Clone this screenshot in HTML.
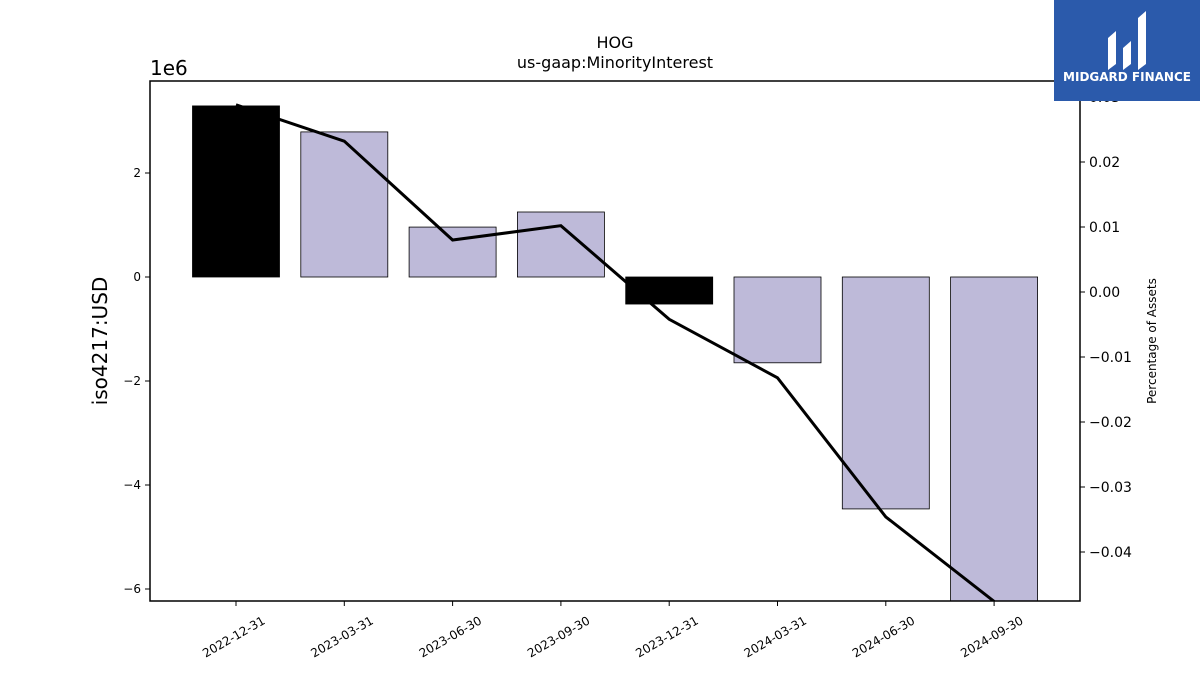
<!DOCTYPE html>
<html><head><meta charset="utf-8"><style>
body{margin:0;background:#fff;width:1200px;height:675px;overflow:hidden;font-family:"Liberation Sans","DejaVu Sans",sans-serif}
</style></head><body>
<svg id="chart" width="1200" height="675" xmlns="http://www.w3.org/2000/svg" font-family="DejaVu Sans, Liberation Sans, sans-serif">
<text x="615" y="48" font-size="16" text-anchor="middle">HOG</text>
<text x="615" y="68" font-size="16" text-anchor="middle">us-gaap:MinorityInterest</text>
<text x="150" y="75" font-size="20">1e6</text>
<text x="107" y="341" font-size="20" text-anchor="middle" transform="rotate(-90 107 341)">iso4217:USD</text>
<text x="1156" y="341" font-size="12" text-anchor="middle" transform="rotate(-90 1156 341)">Percentage of Assets</text>
<g id="bars"></g><g id="line"></g><g id="axes"></g>
<rect x="150" y="81" width="930" height="520" fill="none" stroke="#000" stroke-width="1.5"/>
<g>
<rect x="1054" y="0" width="146" height="101" fill="#2b5aab"/>
<path d="M1108 70 V38 L1116 31 V64 Z M1123 70 V48 L1131 41 V64 Z M1138 70 V18 L1146 11 V64 Z" fill="#fff"/>
<text x="1127" y="81" font-size="12" font-weight="bold" fill="#fff" text-anchor="middle">MIDGARD FINANCE</text>
</g>
</svg>
<script>
const categories=["2022-12-31","2023-03-31","2023-06-30","2023-09-30","2023-12-31","2024-03-31","2024-06-30","2024-09-30"];
const barValues=[3.29,2.79,0.96,1.25,-0.52,-1.65,-4.46,-6.3];
const barColors=["#000","#bebad9","#bebad9","#bebad9","#000","#bebad9","#bebad9","#bebad9"];
const pctValues=[0.0288,0.0232,0.0080,0.0102,-0.0042,-0.0132,-0.0346,-0.0476];
const leftTicks=[-6,-4,-2,0,2];
const rightTicks=[-0.04,-0.03,-0.02,-0.01,0,0.01,0.02,0.03];
const NS="http://www.w3.org/2000/svg";
const pTop=81,pBot=601,pLeft=150,pRight=1080;
const yL=v=>277-v*52;
const yR=v=>292-v*6500;
const xC=i=>236+i*108.3;
function mk(t,a,p){const e=document.createElementNS(NS,t);for(const k in a)e.setAttribute(k,a[k]);p.appendChild(e);return e;}
const clip=mk("clipPath",{id:"pc"},document.getElementById("chart"));
mk("rect",{x:pLeft,y:pTop,width:pRight-pLeft,height:pBot-pTop},clip);
const bg=document.getElementById("bars");bg.setAttribute("clip-path","url(#pc)");
barValues.forEach((v,i)=>{
 const y0=yL(0),y1=yL(v);
 const r=mk("rect",{x:xC(i)-43.5,y:Math.min(y0,y1),width:87,height:Math.abs(y1-y0),fill:barColors[i],stroke:"#000","stroke-width":0.8},bg);
 
 
});
const lg=document.getElementById("line");lg.setAttribute("clip-path","url(#pc)");
const pl=mk("polyline",{points:pctValues.map((v,i)=>xC(i)+","+yR(v)).join(" "),fill:"none",stroke:"#000","stroke-width":3},lg);


const ax=document.getElementById("axes");
leftTicks.forEach(v=>{
 const y=yL(v);
 mk("line",{x1:pLeft-5,x2:pLeft,y1:y,y2:y,stroke:"#000"},ax);
 const t=mk("text",{x:pLeft-9,y:y+4,"font-size":12,"text-anchor":"end"},ax);
 t.textContent=v<0?"\u2212"+(-v):v;
 
 
});
rightTicks.forEach(v=>{
 const y=yR(v);
 mk("line",{x1:pRight,x2:pRight+5,y1:y,y2:y,stroke:"#000"},ax);
 const t=mk("text",{x:pRight+9,y:y+5,"font-size":14},ax);
 t.textContent=(v<0?"\u2212":"")+Math.abs(v).toFixed(2);
 
 
});
categories.forEach((c,i)=>{
 const x=xC(i);
 mk("line",{x1:x,x2:x,y1:pBot,y2:pBot+5,stroke:"#000"},ax);
 const t=mk("text",{x:x+30,y:pBot+22,"font-size":12,"text-anchor":"end",transform:`rotate(-30 ${x+30} ${pBot+22})`},ax);
 t.textContent=c;
 
 
});
</script>
</body></html>
